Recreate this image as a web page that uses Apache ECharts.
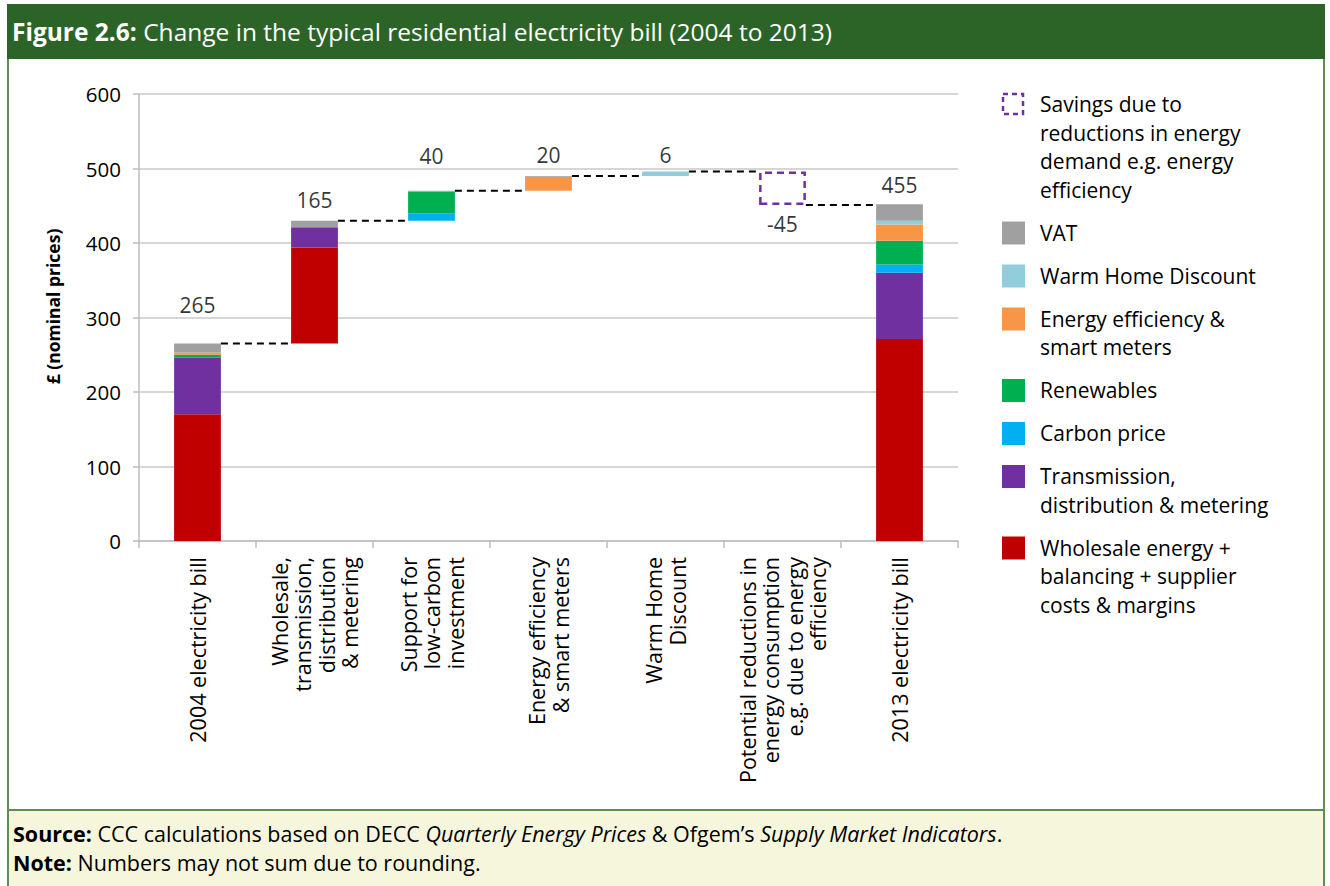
<!DOCTYPE html>
<html>
<head>
<meta charset="utf-8">
<script src="https://cdn.jsdelivr.net/npm/echarts@6/dist/echarts.min.js"></script>
<style>
  body { margin: 0; width: 1330px; height: 886px; position: relative; background: #fff; font-family: 'Open Sans', sans-serif; overflow: hidden; }
  .frame { position: absolute; left: 7px; top: 4px; width: 1314px; height: 882px; border-left: 2px solid #5e8d56; border-right: 2px solid #5e8d56; }
  .header { position: absolute; left: 7px; top: 4px; width: 1318px; height: 55px; background: #2c6428; color: #fff; font-size: 24.5px; line-height: 55px; padding-left: 5px; box-sizing: border-box; white-space: nowrap; }
  .footer { position: absolute; left: 7px; top: 809px; width: 1318px; height: 77px; background: #f6f6dc; border-top: 2px solid #5e8d56; border-left: 2px solid #5e8d56; border-right: 2px solid #5e8d56; box-sizing: border-box; color: #000; font-size: 21.5px; line-height: 29px; padding: 8px 0 0 4px; white-space: nowrap; }
  #chart { position: absolute; left: 0; top: 0; width: 1330px; height: 886px; }
</style>
</head>
<body>
<div class="frame"></div>
<div class="header"><b>Figure 2.6:</b> Change in the typical residential electricity bill (2004 to 2013)</div>
<div class="footer">
  <div><b>Source:</b> CCC calculations based on DECC <i>Quarterly Energy Prices</i> &amp; Ofgem’s <i>Supply Market Indicators</i>.</div>
  <div><b>Note:</b> Numbers may not sum due to rounding.</div>
</div>
<div id="chart"></div>
<script>
// categories along the x axis
const categories = [
  '2004 electricity bill',
  'Wholesale,\ntransmission,\ndistribution\n& metering',
  'Support for\nlow-carbon\ninvestment',
  'Energy efficiency\n& smart meters',
  'Warm Home\nDiscount',
  'Potential reductions in\nenergy consumption\ne.g. due to energy\nefficiency',
  '2013 electricity bill'
]
// 'total' bars start at zero, 'step' bars float, 'saving' hangs down
const barKind = ['total', 'step', 'step', 'step', 'step', 'saving', 'total']

// components of each bar (£)
const wholesale = [170, 129, 0, 0, 0, 0, 271]
const transmission = [76, 27, 0, 0, 0, 0, 89]
const carbonPrice = [0, 0, 10, 0, 0, 0, 11]
const renewables = [4, 0, 29, 0, 0, 0, 32]
const efficiency = [3, 0, 0, 19, 0, 0, 22]
const warmHome = [0, 0, 0, 0, 6, 0, 5]
const vat = [12, 9, 1, 1, 0, 0, 22]
const savings = [0, 0, 0, 0, 0, 45, 0]

// labels printed by the bars
const valueLabels = ['265', '165', '40', '20', '6', '-45', '455']
const yTicks = [0, 100, 200, 300, 400, 500, 600]

const parts = [
  { name: 'Wholesale energy +\nbalancing + supplier\ncosts & margins', data: wholesale, color: '#c00000' },
  { name: 'Transmission,\ndistribution & metering', data: transmission, color: '#7030a0' },
  { name: 'Carbon price', data: carbonPrice, color: '#00b0f0' },
  { name: 'Renewables', data: renewables, color: '#00b050' },
  { name: 'Energy efficiency &\nsmart meters', data: efficiency, color: '#f79646' },
  { name: 'Warm Home Discount', data: warmHome, color: '#92cddc' },
  { name: 'VAT', data: vat, color: '#a0a0a0' }
]
const savingsName = 'Savings due to\nreductions in energy\ndemand e.g. energy\nefficiency'

// running totals -> invisible base, bar tops and connector levels
const base = []
const tops = []
const levels = []
let running = 0
categories.forEach((c, i) => {
  const sum = parts.reduce((s, p) => s + p.data[i], 0)
  if (barKind[i] === 'total') {
    base.push(0)
    running = sum
    tops.push(sum)
  } else if (barKind[i] === 'saving') {
    running -= savings[i]
    base.push(running)
    tops.push(running)
  } else {
    base.push(running)
    running += sum
    tops.push(running)
  }
  levels.push(running)
})

const barRatio = 0.4
const font = "'Open Sans', sans-serif"
const txt = '#000'
const skipZero = arr => arr.map(v => (v === 0 ? '-' : v))

const labelPlace = [
  { position: 'top', distance: 28 },
  { position: 'top', distance: 10 },
  { position: 'top', distance: 24 },
  { position: 'top', distance: 10 },
  { position: 'top', distance: 6 },
  { position: 'bottom', distance: 8 },
  { position: 'top', distance: 9 }
]

const series = [{
  name: 'base',
  type: 'bar',
  stack: 'w',
  barWidth: barRatio * 100 + '%',
  silent: true,
  itemStyle: { color: 'rgba(0,0,0,0)' },
  data: base
}]
parts.forEach(p => {
  series.push({
    name: p.name,
    type: 'bar',
    stack: 'w',
    barWidth: barRatio * 100 + '%',
    itemStyle: { color: p.color },
    data: skipZero(p.data)
  })
})
series.push({
  name: savingsName,
  type: 'bar',
  stack: 'w',
  barWidth: barRatio * 100 + '%',
  itemStyle: { color: 'rgba(0,0,0,0)', borderColor: '#7030a0', borderWidth: 2.5, borderType: [7, 5] },
  data: skipZero(savings)
})
// dashed connectors between bars
series.push({
  type: 'custom',
  silent: true,
  data: levels.slice(0, -1).map((v, i) => [i, v]),
  renderItem(params, api) {
    const i = api.value(0)
    const v = api.value(1)
    const a = api.coord([i, v])
    const b = api.coord([i + 1, v])
    const half = api.size([1, 0])[0] * barRatio / 2
    return {
      type: 'line',
      shape: { x1: a[0] + half, y1: a[1], x2: b[0] - half, y2: b[1] },
      style: { stroke: '#000', lineWidth: 2, lineDash: [7, 5] }
    }
  },
  z: 1
})
// value labels
series.push({
  type: 'scatter',
  silent: true,
  symbolSize: 0.1,
  itemStyle: { color: 'rgba(0,0,0,0)' },
  data: tops.map((v, i) => ({
    value: [i, v],
    label: {
      show: true,
      position: labelPlace[i].position,
      distance: labelPlace[i].distance,
      formatter: valueLabels[i],
      fontSize: 21,
      fontFamily: font,
      color: txt
    }
  }))
})

// legend drawn on the right
const legendItems = [{ name: savingsName, dashed: true, color: '#7030a0' }]
parts.slice().reverse().forEach(p => legendItems.push({ name: p.name, color: p.color }))
const graphic = []
let ly = 93
legendItems.forEach(it => {
  const lines = it.name.split('\n').length
  if (it.dashed) {
    graphic.push({
      type: 'rect',
      shape: { x: 1003, y: ly + 1, width: 20, height: 20 },
      style: { fill: 'none', stroke: it.color, lineWidth: 2.5, lineDash: [5, 4] }
    })
  } else {
    graphic.push({
      type: 'rect',
      shape: { x: 1002, y: ly, width: 23, height: 23 },
      style: { fill: it.color }
    })
  }
  graphic.push({
    type: 'text',
    x: 1040,
    y: ly - 3,
    style: {
      text: it.name,
      font: '21px ' + font,
      lineHeight: 28.5,
      fill: txt,
      verticalAlign: 'top'
    }
  })
  ly += lines * 28.5 + 14.5
})

const chart = echarts.init(document.getElementById('chart'), null, { renderer: 'svg' })
chart.setOption({
  animation: false,
  backgroundColor: 'transparent',
  grid: { left: 139, top: 94, width: 819, height: 447 },
  xAxis: {
    type: 'category',
    data: categories,
    axisLine: { lineStyle: { color: '#bdbdbd', width: 1.5 } },
    axisTick: { show: true, length: 7, lineStyle: { color: '#bdbdbd', width: 1.5 } },
    axisLabel: {
      interval: 0,
      rotate: 90,
      margin: 16,
      fontSize: 21.5,
      lineHeight: 23.5,
      fontFamily: font,
      color: txt
    }
  },
  yAxis: {
    type: 'value',
    min: yTicks[0],
    max: yTicks[yTicks.length - 1],
    interval: yTicks[1] - yTicks[0],
    name: '£ (nominal prices)',
    nameLocation: 'middle',
    nameGap: 77,
    nameTextStyle: { fontSize: 17.5, fontWeight: 'bold', fontFamily: font, color: txt, padding: [0, 0, 0, 22] },
    axisLine: { show: true, lineStyle: { color: '#bdbdbd', width: 1.5 } },
    axisTick: { show: true, length: 6, lineStyle: { color: '#bdbdbd', width: 1.5 } },
    splitLine: { lineStyle: { color: '#c8c8c8', width: 1.5 } },
    axisLabel: { fontSize: 20.5, margin: 18, fontFamily: font, color: txt }
  },
  graphic: graphic,
  series: series
})
</script>
</body>
</html>
